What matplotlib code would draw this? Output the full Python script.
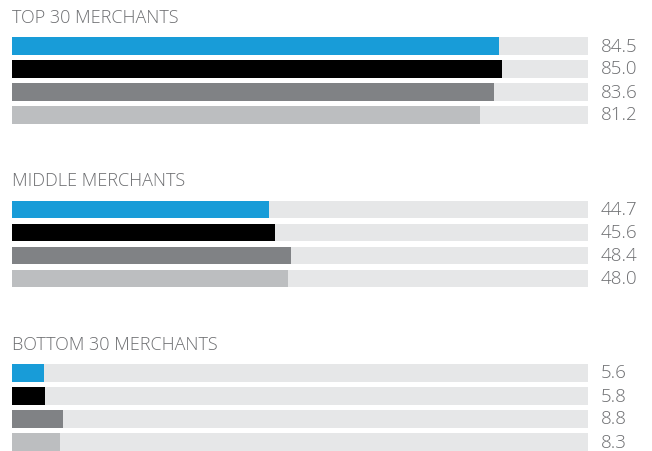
import matplotlib.pyplot as plt

# data
groups = ["TOP 30 MERCHANTS", "MIDDLE MERCHANTS", "BOTTOM 30 MERCHANTS"]
top_vals = [84.5, 85.0, 83.6, 81.2]
middle_vals = [44.7, 45.6, 48.4, 48.0]
bottom_vals = [5.6, 5.8, 8.8, 8.3]
all_vals = [top_vals, middle_vals, bottom_vals]

colors = ["#189cd8", "#000000", "#808285", "#bcbec0"]
track = "#e6e7e8"
text_color = "#6d6e71"

plt.rcParams['font.family'] = ['Open Sans', 'DejaVu Sans']

fig = plt.figure(figsize=(6.52, 4.51), dpi=100)
# axis spans the bar track: x in data units 0-100, y in pixel rows
ax = fig.add_axes([12 / 652, 0, 576 / 652, 1])
ax.set_xlim(0, 100)
ax.set_ylim(451, 0)
ax.axis('off')

group_top = 46      # centre of first bar of first group
group_step = 163.5
row_step = 23
bar_h = 17.6

for g, (name, vals) in enumerate(zip(groups, all_vals)):
    y0 = group_top + g * group_step
    ys = [y0 + i * row_step for i in range(len(vals))]
    ax.barh(ys, [100] * len(vals), height=bar_h, color=track, left=0)
    ax.barh(ys, vals, height=bar_h, color=colors, left=0)
    for y, v in zip(ys, vals):
        ax.text(102.2, y + 0.5, f"{v:.1f}", ha='left', va='center',
                fontsize=13.5, color=text_color, fontweight='light',
                clip_on=False)
    ax.text(0, y0 - 28, name, ha='left', va='center',
            fontsize=13, color=text_color, fontweight='light', clip_on=False)

fig.savefig("out.png", dpi=100, facecolor="white")
